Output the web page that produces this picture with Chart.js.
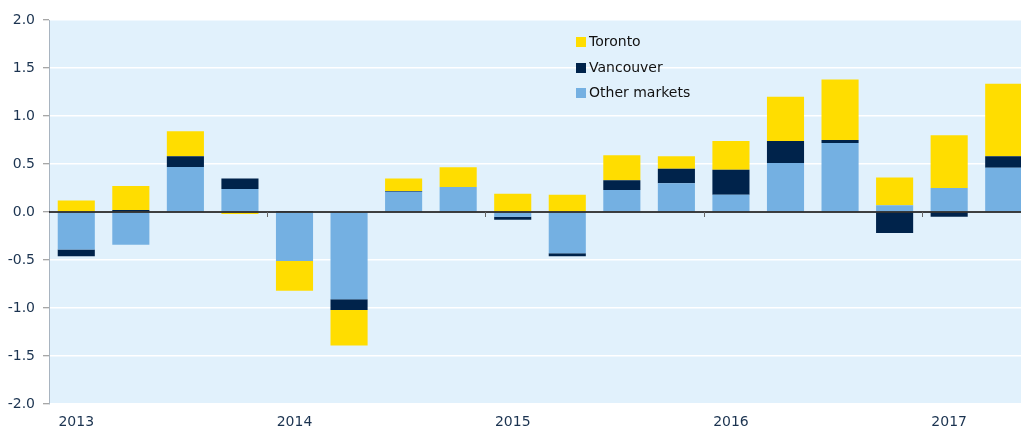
<!DOCTYPE html>
<html>
<head>
<meta charset="utf-8">
<script src="https://cdn.jsdelivr.net/npm/chart.js@4"></script>
<style>
  body { margin: 0; overflow: hidden; background: #fff; }
  #wrap { position: relative; width: 1040px; height: 431px; }
  #legend { position: absolute; left: 576px; top: 29px; font: 14px 'DejaVu Sans', sans-serif; color: #111; }
  #legend div { height: 25.5px; line-height: 25px; white-space: nowrap; }
  #legend span { display: inline-block; width: 10px; height: 10px; margin-right: 3px; vertical-align: -1px; }
</style>
</head>
<body>
<div id="wrap">
  <canvas id="myChart" width="1040" height="431"></canvas>
  <div id="legend"></div>
</div>
<script>
// quarters 2013Q1 .. 2017Q2
var quarters = ['2013Q1','2013Q2','2013Q3','2013Q4','2014Q1','2014Q2','2014Q3','2014Q4',
                '2015Q1','2015Q2','2015Q3','2015Q4','2016Q1','2016Q2','2016Q3','2016Q4',
                '2017Q1','2017Q2'];
var otherMarkets = [-0.39, -0.34, 0.47, 0.24, -0.51, -0.91, 0.21, 0.26, -0.05, -0.43, 0.23, 0.30, 0.18, 0.51, 0.72, 0.07, 0.25, 0.46];
var vancouver    = [-0.07, 0.02, 0.11, 0.11, 0.01, -0.11, 0.01, 0.00, -0.03, -0.03, 0.10, 0.15, 0.26, 0.23, 0.03, -0.22, -0.05, 0.12];
var toronto      = [0.12, 0.25, 0.26, -0.02, -0.31, -0.37, 0.13, 0.205, 0.19, 0.18, 0.26, 0.13, 0.30, 0.46, 0.63, 0.29, 0.55, 0.755];
var yTicks = [-2.0, -1.5, -1.0, -0.5, 0.0, 0.5, 1.0, 1.5, 2.0];

var font = "'DejaVu Sans', sans-serif";
var tickColor = '#1b3350';

var plotBg = {
  id: 'plotBg',
  beforeDraw: function(chart) {
    var a = chart.chartArea, c = chart.ctx;
    c.save();
    c.fillStyle = '#E1F1FC';
    c.fillRect(a.left, a.top, a.right - a.left, a.bottom - a.top);
    c.restore();
  },
  afterDatasetsDraw: function(chart) {
    var a = chart.chartArea, c = chart.ctx;
    var x = chart.scales.x, y = chart.scales.y;
    var y0 = y.getPixelForValue(0);
    c.save();
    c.strokeStyle = '#000';
    c.lineWidth = 1.5;
    c.beginPath();
    c.moveTo(a.left, y0);
    c.lineTo(a.right, y0);
    c.stroke();
    // year boundary ticks hanging from the zero line
    c.strokeStyle = '#666';
    c.lineWidth = 1;
    for (var i = 4; i < quarters.length; i += 4) {
      var px = Math.round((x.getPixelForValue(i - 1) + x.getPixelForValue(i)) / 2) + 0.5;
      c.beginPath();
      c.moveTo(px, y0);
      c.lineTo(px, y0 + 5);
      c.stroke();
    }
    c.restore();
  }
};

var ctx = document.getElementById('myChart').getContext('2d');
var chart = new Chart(ctx, {
  type: 'bar',
  data: {
    labels: quarters,
    datasets: [
      { label: 'Other markets', data: otherMarkets, backgroundColor: '#74B0E2' },
      { label: 'Vancouver', data: vancouver, backgroundColor: '#00234B' },
      { label: 'Toronto', data: toronto, backgroundColor: '#FFDD00' }
    ]
  },
  options: {
    responsive: false,
    animation: false,
    layout: { padding: { top: 20, right: 9, left: 0, bottom: 0 } },
    datasets: { bar: { categoryPercentage: 1, barPercentage: 0.68 } },
    plugins: { legend: { display: false }, tooltip: { enabled: false } },
    scales: {
      x: {
        stacked: true,
        grid: { display: false, drawTicks: false },
        border: { display: false },
        afterFit: function(s) { s.height = 27; },
        ticks: {
          autoSkip: false, maxRotation: 0, padding: 10,
          color: tickColor, font: { family: font, size: 14 },
          callback: function(v, i) { return i % 4 === 0 ? quarters[i].slice(0, 4) : ''; }
        }
      },
      y: {
        stacked: true,
        min: -2, max: 2,
        afterFit: function(s) { s.width = 49; },
        afterBuildTicks: function(s) { s.ticks = yTicks.map(function(v) { return { value: v }; }); },
        border: { display: true, color: '#a8b4c0', width: 1 },
        grid: {
          color: '#ffffff', lineWidth: 1.5,
          tickLength: 6, tickColor: '#8a8a8a', tickWidth: 1
        },
        ticks: {
          padding: 8, color: tickColor, font: { family: font, size: 14 },
          callback: function(v) { return v.toFixed(1); }
        }
      }
    }
  },
  plugins: [plotBg]
});

// legend, listed top to bottom in reverse stacking order
var legend = document.getElementById('legend');
chart.data.datasets.slice().reverse().forEach(function(ds) {
  var row = document.createElement('div');
  var box = document.createElement('span');
  box.style.background = ds.backgroundColor;
  row.appendChild(box);
  row.appendChild(document.createTextNode(ds.label));
  legend.appendChild(row);
});
</script>
</body>
</html>
